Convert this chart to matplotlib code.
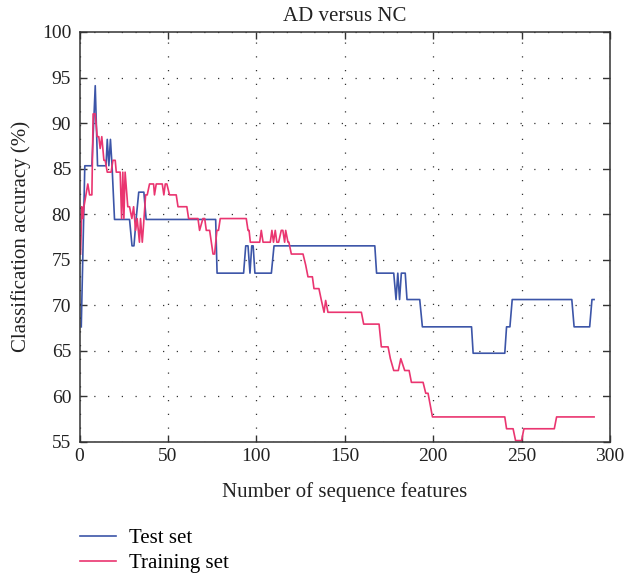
import matplotlib
matplotlib.use("Agg")
import matplotlib.pyplot as plt
from matplotlib.lines import Line2D

title = "AD versus NC"
xlabel = "Number of sequence features"
ylabel = "Classification accuracy (%)"
legend_labels = ["Test set", "Training set"]
xticks = [0, 50, 100, 150, 200, 250, 300]
yticks = [55, 60, 65, 70, 75, 80, 85, 90, 95, 100]

test_x = [1, 3, 7, 8.9, 10.2, 15, 15.7, 16.6, 17.5, 18.4, 19.8, 28.3, 29.7, 30.8, 32, 33.5, 36.4,
          37.7, 77, 77.8, 92.8, 94, 95.3, 96.4, 97.4, 98.2, 99.2, 100.2, 108.5, 110, 167, 168,
          177.7, 179, 180, 181, 182, 184.2, 185.2, 192.4, 193.9, 221.7, 222.6, 240.5, 241.5,
          243.4, 244.7, 278.4, 279.7, 288.5, 289.8, 291]
test_y = [67.6, 85.3, 85.3, 94.1, 85.3, 85.3, 88.2, 85.3, 88.2, 85.3, 79.4, 79.4, 76.5, 76.5,
          79.4, 82.4, 82.4, 79.4, 79.4, 73.5, 73.5, 76.5, 76.5, 73.5, 76.5, 76.5, 73.5, 73.5,
          73.5, 76.5, 76.5, 73.5, 73.5, 70.6, 73.5, 70.6, 73.5, 73.5, 70.6, 70.6, 67.6, 67.6,
          64.7, 64.7, 67.6, 67.6, 70.6, 70.6, 67.6, 67.6, 70.6, 70.6]

train_x = [0.6, 1.3, 1.9, 2.5, 4.7, 5.7, 7.0, 7.7, 8.9, 10.0, 10.9, 11.7, 12.6, 13.8, 14.5,
           15.7, 17.9, 18.9, 20.2, 20.8, 23.0, 23.8, 24.5, 25.1, 25.8, 27.3, 28.3, 29.6, 30.6,
           31.7, 32.6, 33.9, 34.5, 35.5, 36.0, 37.4, 38.3, 39.6, 41.9, 42.4, 43.4, 46.8, 47.7,
           48.5, 49.4, 50.9, 54.7, 55.7, 60.7, 61.7, 67.0, 67.9, 69.8, 70.8, 71.7, 73.6, 75.5,
           76.4, 77.7, 78.6, 79.6, 94.3, 95.3, 95.9, 96.6, 101.9, 102.8, 103.8, 107.9, 108.8,
           109.7, 110.7, 111.6, 112.6, 114.1, 115.0, 116.0, 116.6, 117.9, 118.4, 119.8, 126.4,
           127.9, 129.2, 131.7, 132.6, 135.4, 136.8, 138.3, 139.2, 140.5, 159.4, 160.7, 169.4,
           170.7, 174.5, 175.8, 177.7, 180.3, 181.7, 183.9, 186.4, 187.7, 194.3, 195.8, 197.1,
           199.6, 240.5, 241.5, 245.2, 246.6, 250.0, 251.3, 268.5, 269.8, 291]
train_y = [75.6, 80.8, 79.5, 80.8, 83.3, 82.1, 82.1, 91.0, 91.0, 88.5, 88.5, 87.2, 88.5, 85.9,
           85.9, 84.6, 84.6, 85.9, 85.9, 84.6, 84.6, 79.5, 84.6, 79.5, 84.6, 80.8, 80.8, 79.5,
           80.8, 78.2, 79.5, 76.9, 79.5, 76.9, 78.2, 82.1, 82.1, 83.3, 83.3, 82.1, 83.3, 83.3,
           82.1, 83.3, 83.3, 82.1, 82.1, 80.8, 80.8, 79.5, 79.5, 78.2, 79.5, 79.5, 78.2, 78.2,
           75.6, 75.6, 78.2, 78.2, 79.5, 79.5, 78.2, 78.2, 76.9, 76.9, 78.2, 76.9, 76.9, 78.2,
           76.9, 78.2, 76.9, 76.9, 78.2, 78.2, 76.9, 78.2, 76.9, 76.9, 75.6, 75.6, 74.4, 73.1,
           73.1, 71.8, 71.8, 70.5, 69.2, 70.5, 69.2, 69.2, 67.9, 67.9, 65.4, 65.4, 64.1, 62.8,
           62.8, 64.1, 62.8, 62.8, 61.5, 61.5, 60.3, 60.3, 57.7, 57.7, 56.4, 56.4, 55.1, 55.1,
           56.4, 56.4, 57.7, 57.7]

blue = "#3c55a8"
red = "#ea3570"
serif = ["Liberation Serif", "DejaVu Serif"]
plt.rcParams["font.family"] = serif
txt = "#222222"

fig = plt.figure(figsize=(6.26, 5.77), dpi=100)
ax = fig.add_axes([79.5 / 626, 1 - 441.5 / 577, 530.5 / 626, 409.5 / 577])

ax.plot(test_x, test_y, color=blue, lw=1.2)
ax.plot(train_x, train_y, color=red, lw=1.2)

ax.set_xlim(0, 300)
ax.set_ylim(55, 100)
ax.set_xticks(xticks)
ax.set_yticks(yticks)
ax.tick_params(direction="in", length=5, width=1, top=True, right=True,
               labelsize=14, labelcolor=txt, color="#333333")
ax.tick_params(axis="x", pad=5)
ax.tick_params(axis="y", pad=6)
ax.grid(True, color="#333333", linestyle=(0, (1, 10)), linewidth=0.9)
for s in ax.spines.values():
    s.set_linewidth(1.1)
    s.set_color("#333333")

ax.set_title(title, fontsize=15, pad=8, color=txt)
ax.set_xlabel(xlabel, fontsize=15, labelpad=12, color=txt)
ax.set_ylabel(ylabel, fontsize=15, labelpad=8, color=txt)

handles = [Line2D([], [], color=blue, lw=1.2), Line2D([], [], color=red, lw=1.2)]
fig.legend(handles, legend_labels, loc="upper left", bbox_to_anchor=(61.5 / 626, 1 - 510 / 577),
           frameon=False, fontsize=15, handlelength=1.7, handletextpad=0.63, labelspacing=0.25)

fig.savefig("out.png", dpi=100)
